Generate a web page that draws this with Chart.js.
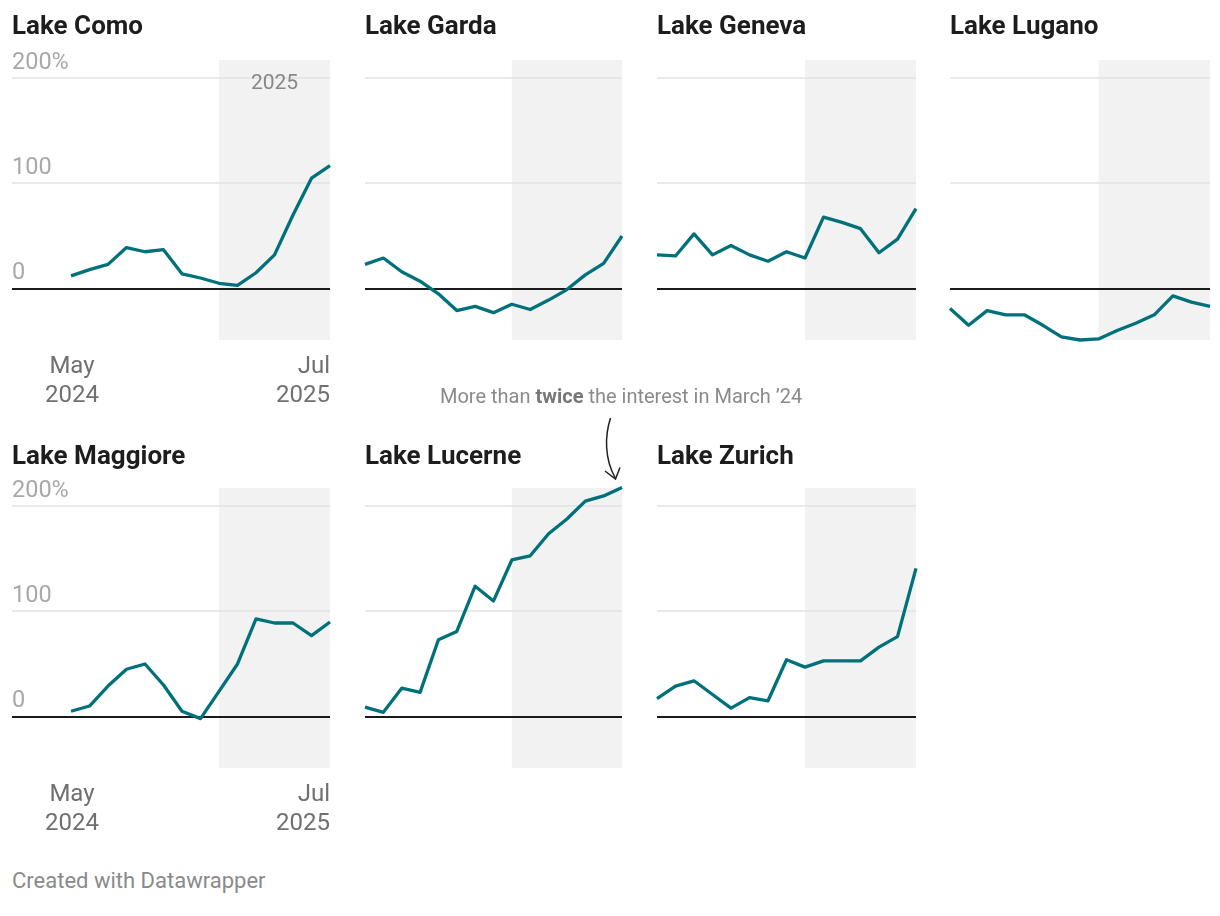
<!DOCTYPE html>
<html>
<head>
<meta charset="utf-8">
<script src="https://cdn.jsdelivr.net/npm/chart.js@4.4.0/dist/chart.umd.min.js"></script>
<style>
  body { margin: 0; background: #fff; font-family: Roboto, sans-serif; }
  #wrap { position: relative; width: 1220px; height: 916px; overflow: hidden; }
  .title { position: absolute; font-weight: 700; font-size: 26px; line-height: 26px; color: #1d1d1d; white-space: nowrap; }
  .note { position: absolute; left: 440px; top: 386px; font-size: 20px; line-height: 20px; color: #8a8a8a; white-space: nowrap; }
  .note b { color: #777; }
  .footer { position: absolute; left: 12px; top: 870px; font-size: 22px; line-height: 22px; color: #8a8a8a; white-space: nowrap; }
  canvas { position: absolute; }
  svg { position: absolute; left: 0; top: 0; pointer-events: none; }
</style>
</head>
<body>
<div id="wrap">
  <div class="note">More than <b>twice</b> the interest in March ’24</div>
  <div class="footer">Created with Datawrapper</div>
  <svg width="1220" height="916">
    <path d="M610.5 418 C 605 435, 604 458, 615.5 478.5" fill="none" stroke="#222" stroke-width="1.5"/>
    <path d="M605 471 L615.5 479 L620 467.5" fill="none" stroke="#222" stroke-width="1.5"/>
  </svg>
</div>
<script>
// months shown on every panel
const months = ["May 2024", "Jun 2024", "Jul 2024", "Aug 2024", "Sep 2024", "Oct 2024", "Nov 2024",
  "Dec 2024", "Jan 2025", "Feb 2025", "Mar 2025", "Apr 2025", "May 2025", "Jun 2025", "Jul 2025"];

const lakes = ["Lake Como", "Lake Garda", "Lake Geneva", "Lake Lugano",
  "Lake Maggiore", "Lake Lucerne", "Lake Zurich"];

// change in interest, %
const como     = [12, 18, 23, 39, 35, 37, 14, 10, 5, 3, 15, 32, 70, 105, 117];
const garda    = [23, 29, 16, 7, -5, -21, -17, -23, -15, -20, -11, -1, 13, 24, 50];
const geneva   = [32, 31, 52, 32, 41, 32, 26, 35, 29, 68, 63, 57, 34, 47, 76];
const lugano   = [-19, -35, -21, -25, -25, -35, -46, -49, -48, -40, -33, -25, -7, -13, -17];
const maggiore = [5, 10, 29, 45, 50, 30, 5, -2, 24, 50, 93, 89, 89, 77, 90];
const lucerne  = [9, 4, 27, 23, 73, 81, 124, 110, 149, 153, 174, 188, 205, 210, 218];
const zurich   = [17, 29, 34, 21, 8, 18, 15, 54, 47, 53, 53, 53, 66, 76, 141];

const series = [como, garda, geneva, lugano, maggiore, lucerne, zurich];

const yTicks = [0, 100, 200];
const yTickLabels = ["0", "100", "200%"];
const xTickLabels = [["May", "2024"], ["Jul", "2025"]];
const highlightFrom = "Jan 2025";
const highlightLabel = "2025";

// layout
const colLeft = [71, 365, 657, 950];
const colRight = [330, 622, 916, 1210];
const axisLeft0 = 12;
const rowTop = [60, 488];
const plotH = 280;
const pad = { left: 10, right: 10, top: 30, bottom: 80 };
const lineColor = "#00707a";

const wrap = document.getElementById("wrap");

const panelPlugin = {
  id: "panel",
  beforeDatasetsDraw(chart, args, opts) {
    const { ctx, chartArea: a, scales: { x, y } } = chart;
    ctx.save();
    // 2025 shading
    const x0 = x.getPixelForValue(months.indexOf(highlightFrom));
    const x1 = x.getPixelForValue(months.length - 1);
    ctx.fillStyle = "#f2f2f2";
    ctx.fillRect(x0, a.top, x1 - x0, a.bottom - a.top);
    // grid
    yTicks.forEach(t => {
      const py = Math.round(y.getPixelForValue(t));
      ctx.beginPath();
      ctx.moveTo(a.left, py);
      ctx.lineTo(a.right, py);
      ctx.strokeStyle = t === 0 ? "#1a1a1a" : "#e2e2e2";
      ctx.lineWidth = t === 0 ? 2 : 1.6;
      ctx.stroke();
    });
    ctx.restore();
  },
  afterDraw(chart, args, opts) {
    const { ctx, chartArea: a, scales: { x, y } } = chart;
    ctx.save();
    if (opts.yLabels) {
      ctx.font = "23.5px Roboto";
      ctx.fillStyle = "#a8a8a8";
      ctx.textAlign = "left";
      ctx.textBaseline = "alphabetic";
      yTicks.forEach((t, i) => {
        ctx.fillText(yTickLabels[i], a.left, y.getPixelForValue(t) - 9.5);
      });
    }
    if (opts.xLabels) {
      ctx.font = "24px Roboto";
      ctx.fillStyle = "#707070";
      const pos = [0, months.length - 1];
      pos.forEach((m, i) => {
        ctx.textAlign = i === 0 ? "center" : "right";
        const px = x.getPixelForValue(m) + (i === 0 ? 1 : 0);
        ctx.fillText(xTickLabels[i][0], px, a.bottom + 33);
        ctx.fillText(xTickLabels[i][1], px, a.bottom + 62);
      });
    }
    if (opts.yearLabel) {
      const x0 = x.getPixelForValue(months.indexOf(highlightFrom));
      const x1 = x.getPixelForValue(months.length - 1);
      ctx.font = "21px Roboto";
      ctx.fillStyle = "#888";
      ctx.textAlign = "center";
      ctx.fillText(highlightLabel, (x0 + x1) / 2, y.getPixelForValue(200) + 11);
    }
    ctx.restore();
  }
};

lakes.forEach((lake, i) => {
  const row = i < 4 ? 0 : 1;
  const col = i < 4 ? i : i - 4;
  const dataLeft = colLeft[col];
  const dataRight = colRight[col];
  const areaLeft = col === 0 ? axisLeft0 : dataLeft;
  const step = (dataRight - dataLeft) / (months.length - 1);
  const xMin = -(dataLeft - areaLeft) / step;
  const top = rowTop[row];

  const t = document.createElement("div");
  t.className = "title";
  t.textContent = lake;
  t.style.left = areaLeft + "px";
  t.style.top = (row === 0 ? 12 : 442) + "px";
  wrap.appendChild(t);

  const w = dataRight - areaLeft + pad.left + pad.right;
  const h = plotH + pad.top + pad.bottom;
  const cv = document.createElement("canvas");
  cv.width = w;
  cv.height = h;
  cv.style.width = w + "px";
  cv.style.height = h + "px";
  cv.style.left = (areaLeft - pad.left) + "px";
  cv.style.top = (top - pad.top) + "px";
  wrap.insertBefore(cv, wrap.firstChild);

  new Chart(cv.getContext("2d"), {
    type: "line",
    data: {
      datasets: [{
        data: series[i].map((v, k) => ({ x: k, y: v })),
        borderColor: lineColor,
        borderWidth: 3.3,
        pointRadius: 0,
        tension: 0,
        borderJoinStyle: "round",
        clip: false
      }]
    },
    options: {
      responsive: false,
      animation: false,
      devicePixelRatio: 1,
      layout: { padding: pad },
      plugins: {
        legend: { display: false },
        tooltip: { enabled: false },
        panel: { yLabels: col === 0, xLabels: col === 0, yearLabel: i === 0 }
      },
      scales: {
        x: { type: "linear", display: false, min: xMin, max: months.length - 1 },
        y: { type: "linear", display: false, min: -49, max: 217.5 }
      }
    },
    plugins: [panelPlugin]
  });
});
</script>
</body>
</html>
